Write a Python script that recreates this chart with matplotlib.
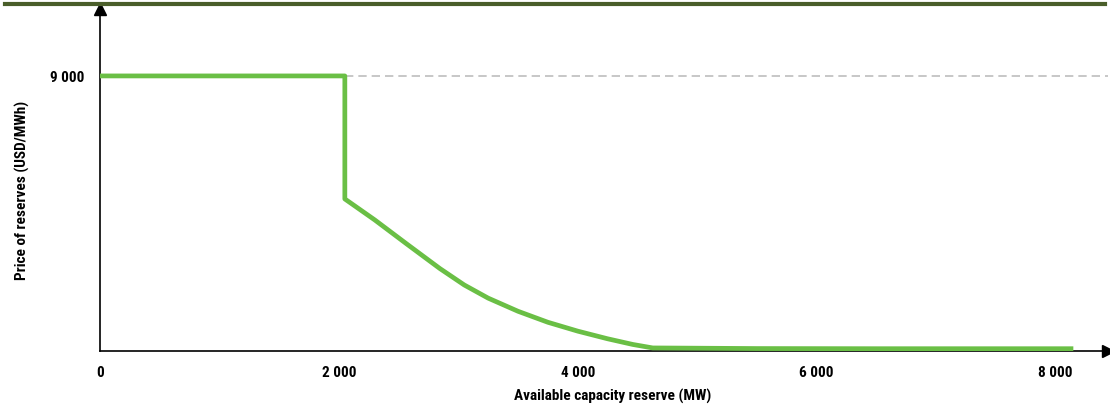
import matplotlib
matplotlib.use("Agg")
import matplotlib.pyplot as plt
from matplotlib import font_manager

names = {f.name for f in font_manager.fontManager.ttflist}
fam = [n for n in ["Liberation Sans Narrow", "Roboto Condensed", "Open Sans Condensed"] if n in names] + ["DejaVu Sans"]
plt.rcParams['font.family'] = fam

capacity_mw = [0, 2050, 2050, 2300, 2569, 2845, 3050, 3250, 3500, 3750, 4000,
               4250, 4460, 4628, 5500, 6500, 7500, 8130]
price_usd = [9000, 9000, 4975, 4290, 3500, 2700, 2160, 1730, 1300, 940, 650,
             400, 215, 100, 80, 75, 75, 75]
cap_value = 9000
x_ticks = [0, 2000, 4000, 6000, 8000]
x_tick_labels = ["0", "2 000", "4 000", "6 000", "8 000"]
y_ticks = [9000]
y_tick_labels = ["9 000"]

fig = plt.figure(figsize=(11.10, 4.06), dpi=100)
ax = fig.add_axes([100/1110, 54/406, 1008/1110, 342/406])
ax.set_xlim(0, 8440)
ax.set_ylim(0, 11190)

ax.plot([capacity_mw[1], 8440], [cap_value, cap_value], color="#bdbdbd", lw=1.2,
        dashes=(5, 3), zorder=1)
ax.plot(capacity_mw, price_usd, color="#6abf45", lw=3.4, solid_joinstyle="round", zorder=3)

for s in ["top", "right"]:
    ax.spines[s].set_visible(False)
for s in ["left", "bottom"]:
    ax.spines[s].set_linewidth(1.2)
    ax.spines[s].set_color("black")
ax.plot(1, 0, ">", color="black", ms=8, transform=ax.transAxes, clip_on=False)
ax.plot(0, 1, "^", color="black", ms=8, transform=ax.transAxes, clip_on=False)

ax.set_xticks(x_ticks)
ax.set_xticklabels(x_tick_labels, fontsize=11, fontweight="bold")
ax.set_yticks(y_ticks)
ax.set_yticklabels(y_tick_labels, fontsize=11, fontweight="bold")
ax.tick_params(length=0, pad=10)
ax.tick_params(axis="y", pad=11)

fig.text(613/1110, 1 - 396/406, "Available capacity reserve (MW)", ha="center", va="center",
         fontsize=11, fontweight="bold")
fig.text(22/1110, 1 - 190/406, "Price of reserves (USD/MWh)", ha="center", va="center",
         rotation=90, fontsize=11, fontweight="bold")

fig.add_artist(plt.Line2D([5/1110, 1105/1110], [1 - 4.5/406, 1 - 4.5/406], color="#4a5e2a", lw=3,
                          transform=fig.transFigure))

fig.savefig("out.png", dpi=100)
